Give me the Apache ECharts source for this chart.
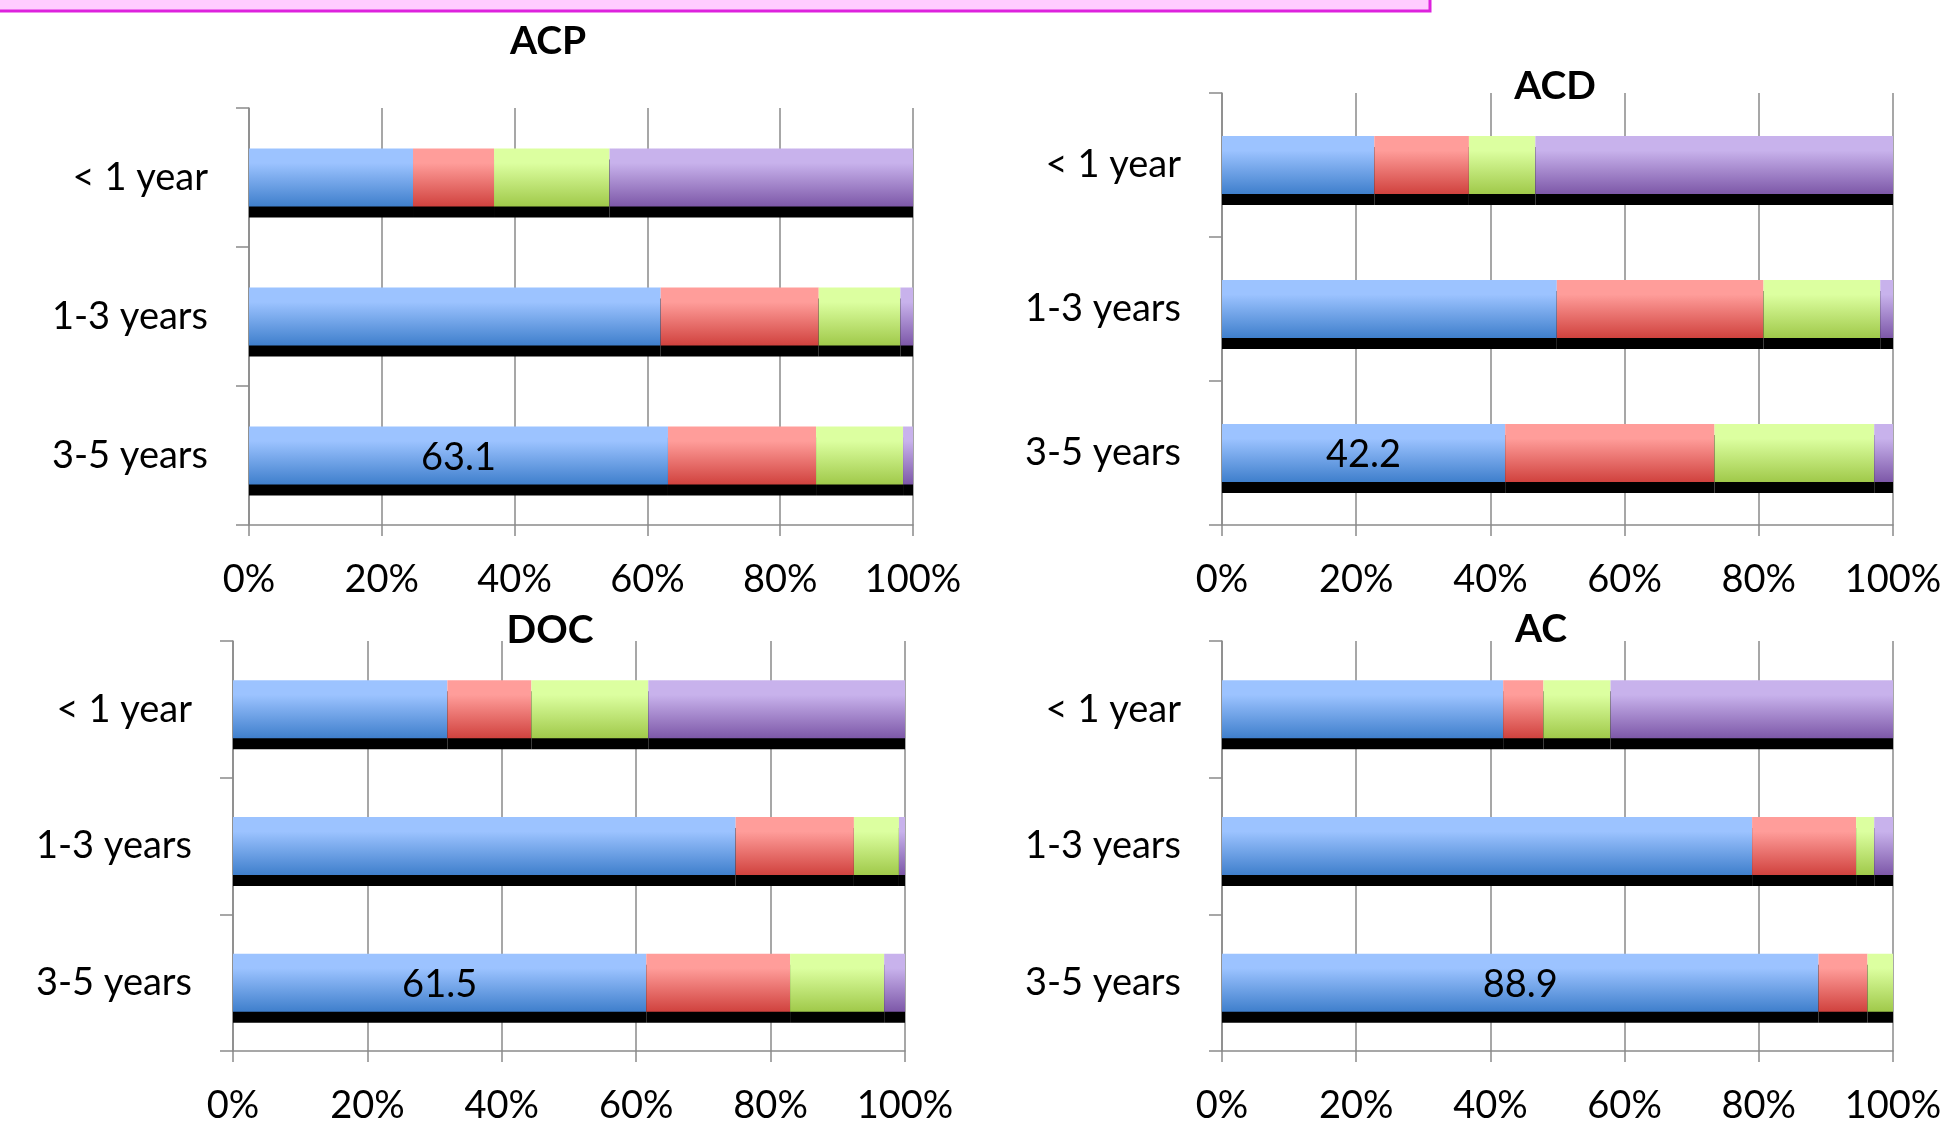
<!DOCTYPE html>
<html>
<head>
<meta charset="utf-8">
<style>
  html, body { margin: 0; padding: 0; background: #ffffff; }
  #chart { width: 1945px; height: 1125px; }
</style>
<script src="https://cdn.jsdelivr.net/npm/echarts@6/dist/echarts.min.js"></script>
</head>
<body>
<div id="chart"></div>
<script>
// Categories (top to bottom) and x-axis ticks
const categories = ['< 1 year', '1-3 years', '3-5 years'];
const xTicks = [0, 20, 40, 60, 80, 100];

// Panel titles
const panelTitles = ['ACP', 'ACD', 'DOC', 'AC'];

// Percent shares per category, four stacked segments per panel
const acpBlue   = [24.7, 62.0, 63.1];
const acpRed    = [12.2, 23.8, 22.3];
const acpGreen  = [17.4, 12.3, 13.1];
const acpPurple = [45.7, 1.9, 1.5];

const acdBlue   = [22.7, 49.9, 42.2];
const acdRed    = [14.1, 30.8, 31.2];
const acdGreen  = [9.9, 17.4, 23.8];
const acdPurple = [53.3, 1.9, 2.8];

const docBlue   = [31.9, 74.8, 61.5];
const docRed    = [12.5, 17.6, 21.4];
const docGreen  = [17.4, 6.7, 14.0];
const docPurple = [38.2, 0.9, 3.1];

const acBlue    = [41.9, 79.0, 88.9];
const acRed     = [6.0, 15.5, 7.3];
const acGreen   = [10.0, 2.7, 3.8];
const acPurple  = [42.1, 2.8, 0];

const panelData = [
  [acpBlue, acpRed, acpGreen, acpPurple],
  [acdBlue, acdRed, acdGreen, acdPurple],
  [docBlue, docRed, docGreen, docPurple],
  [acBlue, acRed, acGreen, acPurple]
];

// Index of the category whose first segment carries a value label
const labelledCategory = 2;

// ---- styling / layout ----
const FONT = 'Lato, "Open Sans", sans-serif';
const grids = [
  { left: 249,  top: 108, width: 664, height: 417 },
  { left: 1222, top: 93,  width: 671, height: 432 },
  { left: 233,  top: 641, width: 672, height: 413 },
  { left: 1222, top: 641, width: 671, height: 413 }
];
const titlePos = [[548, 41], [1555, 86], [550, 630], [1541, 629]];

const segColors = [
  ['#9cc3ff', '#3f7fcc'],
  ['#ff9d9a', '#d0423e'],
  ['#dcffa0', '#a0c94a'],
  ['#c8b2ec', '#7d58a8']
];

function grad(c) {
  return new echarts.graphic.LinearGradient(0, 0, 0, 1, [
    { offset: 0, color: c[0] },
    { offset: 0.25, color: c[0] },
    { offset: 1, color: c[1] }
  ]);
}

const xAxes = [], yAxes = [], series = [];
grids.forEach((g, p) => {
  xAxes.push({
    gridIndex: p, type: 'value', min: xTicks[0], max: xTicks[xTicks.length - 1],
    interval: xTicks[1] - xTicks[0],
    axisLine: { show: true, lineStyle: { color: '#8a8a8a', width: 1.5 } },
    axisTick: { show: true, length: 11, lineStyle: { color: '#8a8a8a', width: 1.5 } },
    splitLine: { show: true, lineStyle: { color: '#8a8a8a', width: 1.5 } },
    axisLabel: { formatter: '{value}%', fontSize: 38, color: '#000', fontFamily: FONT, margin: 36 }
  });
  yAxes.push({
    gridIndex: p, type: 'category', data: categories, inverse: true,
    axisLine: { show: true, lineStyle: { color: '#8a8a8a', width: 1.5 } },
    axisTick: { show: true, length: 13, lineStyle: { color: '#8a8a8a', width: 1.5 } },
    splitLine: { show: false },
    axisLabel: { fontSize: 38, color: '#000', fontFamily: FONT, margin: 41 }
  });
  panelData[p].forEach((vals, s) => {
    series.push({
      type: 'bar',
      name: panelTitles[p] + ' ' + (s + 1),
      xAxisIndex: p, yAxisIndex: p,
      stack: 'panel' + p,
      barWidth: 58,
      animation: false,
      itemStyle: {
        color: grad(segColors[s]),
        shadowColor: '#000',
        shadowBlur: 0,
        shadowOffsetX: 0,
        shadowOffsetY: 11
      },
      label: { show: false },
      data: vals.map((v, i) => (s === 0 && i === labelledCategory)
        ? { value: v, label: { show: true, position: 'inside', formatter: '{c}',
            fontSize: 38, color: '#000', fontFamily: FONT, offset: [0, 2] } }
        : v)
    });
  });
});

const graphics = [
  // banner strip at the very top
  { type: 'rect', shape: { x: -4, y: -20, width: 1434, height: 31 },
    style: { fill: '#ffccff', stroke: '#dd22dd', lineWidth: 3 }, z: 10 }
];
titlePos.forEach((pos, p) => {
  graphics.push({
    type: 'text', x: pos[0], y: pos[1], z: 20,
    style: { text: panelTitles[p], font: 'bold 39px ' + FONT, fill: '#000',
      textAlign: 'center', textVerticalAlign: 'middle' }
  });
});

const chart = echarts.init(document.getElementById('chart'), null, { renderer: 'canvas' });
chart.setOption({
  backgroundColor: '#ffffff',
  animation: false,
  grid: grids,
  xAxis: xAxes,
  yAxis: yAxes,
  series: series,
  graphic: graphics
});
</script>
</body>
</html>
